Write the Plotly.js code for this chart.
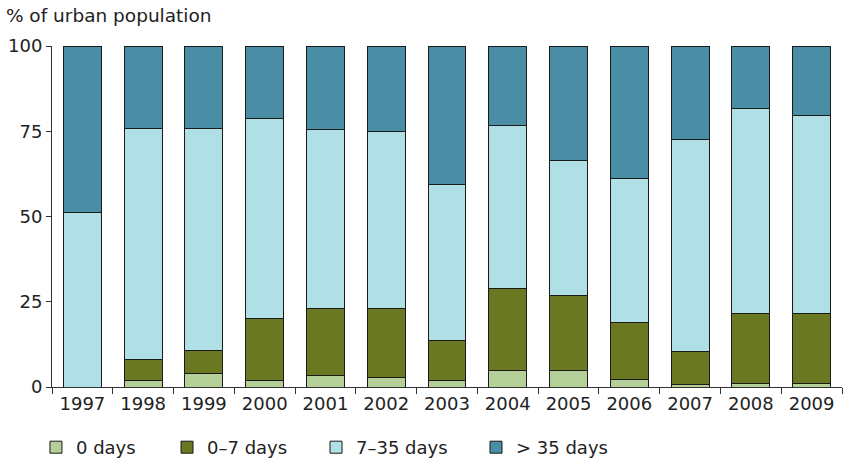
<!DOCTYPE html>
<html>
<head>
<meta charset="utf-8">
<script src="https://cdn.plot.ly/plotly-3.0.1.min.js"></script>
<style>html,body{margin:0;padding:0;background:#fff;}#chart{width:844px;height:459px;}</style>
</head>
<body>
<div id="chart"></div>
<script>
const years = ['1997','1998','1999','2000','2001','2002','2003','2004','2005','2006','2007','2008','2009'];
const days0 = [0, 1.9, 4.1, 2.0, 3.5, 2.9, 2.0, 4.7, 4.7, 2.3, 0.6, 1.1, 1.1];
const days0to7 = [0, 6.3, 6.6, 18.2, 19.6, 20.0, 11.7, 24.2, 22.2, 16.5, 9.7, 20.6, 20.4];
const days7to35 = [51.3, 67.7, 65.0, 58.6, 52.4, 52.1, 45.6, 47.9, 39.5, 42.4, 62.4, 60.0, 58.2];
const daysOver35 = [48.7, 24.1, 24.3, 21.2, 24.5, 25.0, 40.7, 23.2, 33.6, 38.8, 27.3, 18.3, 20.3];
const seriesNames = ['0 days', '0\u20137 days', '7\u201335 days', '> 35 days'];
const seriesColors = ['#b5cf98', '#6b7822', '#b0e0e6', '#4a8ea6'];
const seriesValues = [days0, days0to7, days7to35, daysOver35];
const legendIds = ['legend', 'legend2', 'legend3', 'legend4'];
const legendX = [-0.0203, 0.1456, 0.3342, 0.5367];

const font = 'DejaVu Sans, Verdana, sans-serif';
const textColor = '#222222';
const traces = seriesValues.map((vals, i) => ({
  type: 'bar',
  x: years,
  y: vals,
  name: seriesNames[i],
  legend: legendIds[i],
  marker: {color: seriesColors[i], line: {color: '#1a1a1a', width: 1}},
  hoverinfo: 'x+y+name'
}));

const layout = {
  width: 844, height: 459,
  margin: {l: 52, r: 2, t: 46, b: 72},
  barmode: 'stack',
  bargap: 0.375,
  paper_bgcolor: '#ffffff',
  plot_bgcolor: '#ffffff',
  font: {family: font, size: 18, color: textColor},
  title: {text: '% of urban population', x: 0.007, xref: 'container', xanchor: 'left', y: 1 - 16 / 459, yref: 'container', yanchor: 'middle', font: {family: font, size: 18.5, color: textColor}},
  xaxis: {
    type: 'category', showline: true, linecolor: '#333333', linewidth: 1,
    ticks: 'outside', tickson: 'boundaries', ticklen: 6, tickcolor: '#333333',
    showgrid: false, zeroline: false, tickfont: {family: font, size: 18, color: textColor}
  },
  yaxis: {
    range: [0, 100], tickvals: [0, 25, 50, 75, 100], showline: true, linecolor: '#333333', linewidth: 1,
    ticks: 'outside', ticklen: 5, tickcolor: '#333333', showgrid: false, zeroline: false,
    tickfont: {family: font, size: 18, color: textColor}
  },
  showlegend: true
};
legendIds.forEach((id, i) => {
  layout[id] = {
    orientation: 'h', x: legendX[i], xanchor: 'left', xref: 'paper',
    y: 1 - 447.5 / 459, yref: 'container', yanchor: 'middle',
    font: {family: font, size: 18, color: textColor}, bgcolor: 'rgba(0,0,0,0)'
  };
});

Plotly.newPlot('chart', traces, layout, {displayModeBar: false, staticPlot: true});
</script>
</body>
</html>
